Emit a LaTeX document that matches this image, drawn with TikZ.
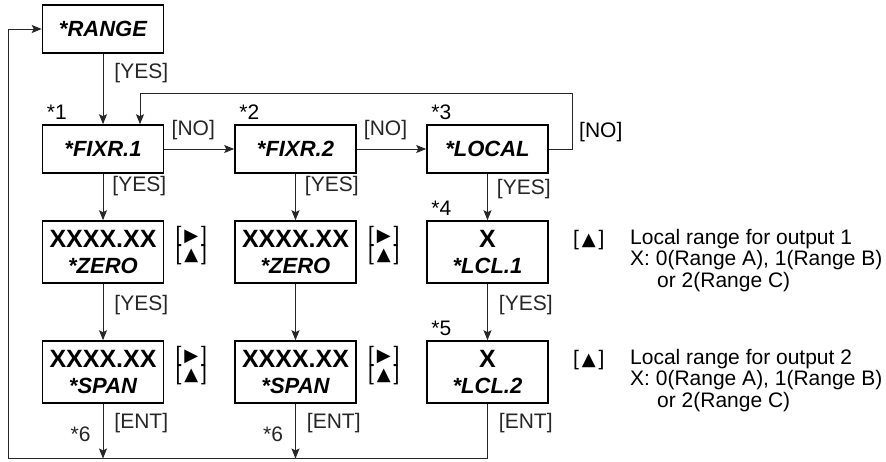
\documentclass[tikz,border=0pt]{standalone}
\usepackage{fontspec}
\setmainfont{Liberation Sans}
\newfontfamily\symfont{DejaVu Sans}
\usetikzlibrary{arrows.meta,positioning,calc}
\newcommand\bignum{\fontsize{25}{25}\selectfont\upshape}
\newcommand\rkey{[\kern3pt{\symfont\fontsize{18}{18}\selectfont ▶}\kern3pt]}
\newcommand\ukey{[\kern3pt{\symfont\fontsize{18}{18}\selectfont ▲}\kern3pt]}

\begin{document}
\begin{tikzpicture}[x=1pt, y=-1pt,
  box/.style={draw, line width=1.6pt, minimum width=121pt, minimum height=48pt, inner sep=0pt,
    font=\fontsize{22}{24}\selectfont\bfseries\itshape},
  dbox/.style={box, minimum height=62pt, align=center},
  lbl/.style={inner sep=0pt, font=\fontsize{21}{24}\selectfont},
  arr/.style={-{Stealth[length=10pt,width=8pt,inset=2pt]}, line width=0.9pt, black!85},
  ln/.style={line width=0.9pt, black!85},
]
\useasboundingbox (0,0) rectangle (886,461);

% column 1
\node[box] (range) at (103,29) {*RANGE};
\node[box] (fixr1) at (103,149) {*FIXR.1};
\node[dbox] (zero1) at (103,252) {{\bignum XXXX.XX}\\[2pt]{*ZERO}};
\node[dbox] (span1) at (103,372) {{\bignum XXXX.XX}\\[2pt]{*SPAN}};
% column 2
\node[box] (fixr2) at (295.5,149) {*FIXR.2};
\node[dbox] (zero2) at (295.5,252) {{\bignum XXXX.XX}\\[2pt]{*ZERO}};
\node[dbox] (span2) at (295.5,372) {{\bignum XXXX.XX}\\[2pt]{*SPAN}};
% column 3
\node[box] (local) at (487.5,149) {*LOCAL};
\node[dbox] (lcl1) at (487.5,252) {{\bignum X}\\[2pt]{*LCL.1}};
\node[dbox] (lcl2) at (487.5,372) {{\bignum X}\\[2pt]{*LCL.2}};

% step numbers
\node[lbl, anchor=base west] (n1) at ([xshift=5pt,yshift=5pt]fixr1.north west) {*1};
\node[lbl, anchor=base west] (n2) at ([xshift=5pt,yshift=5pt]fixr2.north west) {*2};
\node[lbl, anchor=base west] (n3) at ([xshift=5pt,yshift=5pt]local.north west) {*3};
\node[lbl, anchor=base west] (n4) at ([xshift=5pt,yshift=5pt]lcl1.north west) {*4};
\node[lbl, anchor=base west] (n5) at ([xshift=5pt,yshift=5pt]lcl2.north west) {*5};

% keys beside the boxes
\foreach \b in {zero1,span1,zero2,span2}{
  \node[lbl, anchor=west] (\b r) at ([xshift=11pt,yshift=16pt]\b.east) {\rkey};
  \node[lbl, anchor=west] (\b u) at ([xshift=11pt,yshift=-3pt]\b.east) {\ukey};
}
\node[lbl, anchor=west] (up1) at ([xshift=24pt,yshift=12pt]lcl1.east) {\ukey};
\node[lbl, anchor=west] (up2) at ([xshift=24pt,yshift=12pt]lcl2.east) {\ukey};
\node[lbl, anchor=north west, align=left] (note1) at (630,229)
  {Local range for output 1\\[-2.5pt]X: 0(Range A), 1(Range B)\\[-2.5pt]\hspace*{27pt}or 2(Range C)};
\node[lbl, anchor=north west, align=left] (note2) at (630,349)
  {Local range for output 2\\[-2.5pt]X: 0(Range A), 1(Range B)\\[-2.5pt]\hspace*{27pt}or 2(Range C)};

% flow
\draw[arr] (range) -- node[lbl, anchor=west, pos=0.27, xshift=11pt] {[YES]} (fixr1);
\draw[arr] (fixr1) -- node[lbl, anchor=west, pos=0.27, xshift=9pt] {[YES]} (zero1);
\draw[arr] (zero1) -- node[lbl, anchor=west, pos=0.38, xshift=11pt] {[YES]} (span1);
\draw[arr] (fixr2) -- node[lbl, anchor=west, pos=0.27, xshift=9pt] {[YES]} (zero2);
\draw[arr] (zero2) -- (span2);
\draw[arr] (local) -- node[lbl, anchor=west, pos=0.32, xshift=9pt] {[YES]} (lcl1);
\draw[arr] (lcl1) -- node[lbl, anchor=west, pos=0.38, xshift=11pt] {[YES]} (lcl2);

\draw[arr] (fixr1) -- node[lbl, above=9pt, xshift=-6pt] {[NO]} (fixr2);
\draw[arr] (fixr2) -- node[lbl, above=9pt, xshift=-6pt] {[NO]} (local);
\coordinate (loopr) at (572,93);
\draw[arr] (local.east) -| (loopr) -| ([xshift=37pt]fixr1.north);
\node[lbl, anchor=west] (no3) at ([xshift=7pt]loopr |- local.east) [yshift=17pt] {[NO]};

% back to the start
\coordinate (bl) at (8.5,458.5);
\draw[arr] (span1) -- node[lbl, anchor=west, pos=0.35, xshift=11pt] {[ENT]}
  node[lbl, anchor=east, pos=0.55, xshift=-12pt] {*6} (span1 |- bl);
\draw[arr] (span2) -- node[lbl, anchor=west, pos=0.35, xshift=11pt] {[ENT]}
  node[lbl, anchor=east, pos=0.55, xshift=-12pt] {*6} (span2 |- bl);
\draw[arr] (lcl2) -- node[lbl, anchor=west, pos=0.35, xshift=11pt] {[ENT]} (lcl2 |- bl) -- (bl) |- (range);
\end{tikzpicture}
\end{document}
